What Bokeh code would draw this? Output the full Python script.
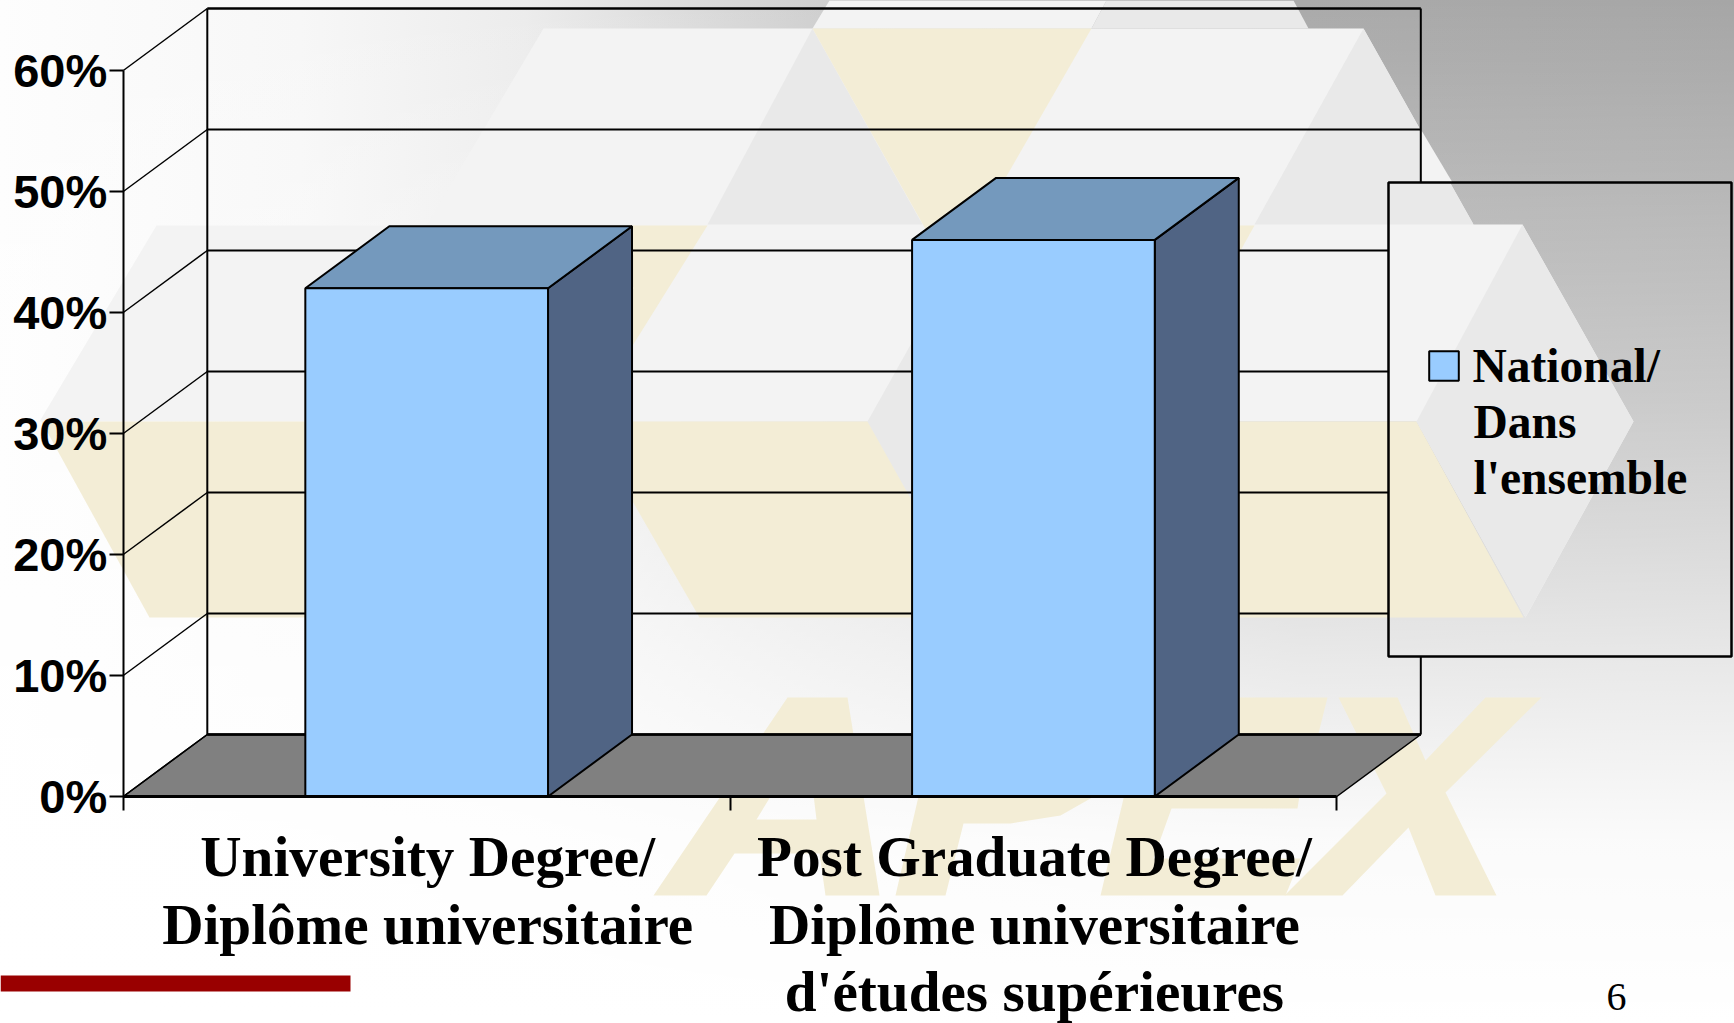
from bokeh.plotting import figure
from bokeh.embed import file_html
from bokeh.resources import INLINE
from bokeh.core.properties import value
from bokeh.models import (PolyAnnotation, Legend, LegendItem, FixedTicker,
                          LinearAxis, PrintfTickFormatter)

# ---- data ----
category_lines = [["University Degree/", "Diplôme universitaire"],
                  ["Post Graduate Degree/", "Diplôme universitaire", "d'études supérieures"]]
values = [42, 46]
y_ticks = [0, 10, 20, 30, 40, 50, 60]
legend_lines = ["National/", "Dans", "l'ensemble"]
page_number = "6"

# ---- layout (page pixels) ----
W, H = 1734, 1023
PX_CAT = 606.75            # px per category
PX_PCT = 12.1              # px per percentage point
LEFT, BASE = 122.8, 796    # front plane: left edge, 0 % line
DX, DY = 84 / PX_CAT, 62 / PX_PCT   # 3-D depth in data units
BAR_W = 0.4
BASELINE_K = 0.37          # the text glyph's alphabetic baseline sits this many em lower

XD = lambda x: (x - LEFT) / PX_CAT
YD = lambda y: (BASE - y) / PX_PCT
YT = lambda y, fs: YD(y - BASELINE_K * fs)

css = """
:host {
  background:
    linear-gradient(to bottom, rgba(255,255,255,0) 0%, rgba(255,255,255,.42) 40%, rgba(255,255,255,.75) 65%, rgba(255,255,255,.95) 82%, #fff 100%),
    linear-gradient(to right, rgb(253,253,253) 0px, rgb(251,251,251) 100px, rgb(247,247,247) 300px, rgb(236,236,236) 525px, rgb(207,207,207) 818px, rgb(170,170,170) 1300px, rgb(166,166,166) 1734px);
}
"""

p = figure(width=W, height=H, output_backend="svg", toolbar_location=None,
           x_range=(XD(0), XD(W)), y_range=(YD(H), YD(0)),
           x_axis_location=None, y_axis_location=None,
           min_border=0, border_fill_color=None, background_fill_color=None, outline_line_color=None)
p.stylesheets = [css]
p.grid.visible = False


def poly(pts, color, level="image"):
    p.add_layout(PolyAnnotation(xs=[a for a, b in pts], ys=[b for a, b in pts],
                                xs_units="canvas", ys_units="canvas", fill_color=color, fill_alpha=1,
                                line_alpha=0, level=level, editable=False))


L3, E9, CR = "#f3f3f3", "#e9e9e9", "#f3edd6"
# watermark background shapes
poly([(543, 28), (1363, 28), (1473, 224), (1522, 224), (1633, 421), (1525, 617), (1416, 421),
      (39, 421), (156, 225), (426, 225)], L3)
poly([(829, 0), (1106, 0), (1091, 28), (812, 28)], L3)
poly([(1106, 0), (1293, 0), (1308, 28), (1091, 28)], E9)
poly([(812, 28), (707, 224), (922, 224)], E9)
poly([(1363, 28), (1254, 224), (1473, 224)], E9)
poly([(1421, 130), (1421, 182), (1452, 182)], L3)
poly([(812, 28), (1091, 28), (950, 273)], CR)
poly([(395, 225), (707, 225), (523, 520)], CR)
poly([(940, 225), (1254, 225), (1090, 520)], CR)
poly([(41, 421), (500, 421), (500, 617), (149, 617)], CR)
poly([(586, 421), (1416, 421), (1523, 617), (699, 617)], CR)
poly([(867, 421), (977, 225), (1090, 421), (977, 617)], E9)
poly([(1416, 421), (1522, 224), (1633, 421), (1525, 617)], E9)
# watermark letters
poly([(787, 697), (847, 697), (879, 895), (825, 895), (819, 853), (816, 819), (806, 737), (756, 819),
      (816, 819), (819, 853), (734, 853), (706, 895), (653, 895)], CR)
poly([(895, 895), (941, 697), (1060, 697), (1130, 730), (1110, 780), (1090, 798), (1060, 815),
      (1010, 823), (963, 823), (945, 895)], CR)
poly([(1147, 697), (1327, 697), (1318, 733), (1190, 733), (1181, 770), (1303, 770), (1297, 808),
      (1171, 808), (1153, 858), (1300, 858), (1285, 895), (1100, 895)], CR)
poly([(1338, 697), (1397, 697), (1425, 760), (1485, 697), (1541, 697), (1445, 792), (1496, 895),
      (1435, 895), (1408, 827), (1342, 895), (1284, 895), (1386, 793)], CR)
# red rule
poly([(0, 975), (350, 975), (350, 991), (0, 991)], "#990000")

# legend box edges
LEG_L, LEG_R, LEG_T, LEG_B = 1388, 1731, 182, 656
leg_x, leg_top, leg_bot = XD(LEG_L), YD(LEG_T), YD(LEG_B)

n_cat = len(category_lines)

# floor
p.patch([0, DX, n_cat + DX, n_cat], [0, DY, DY, 0], fill_color="#808080", line_color="black", line_width=1.5)
p.line([DX, n_cat + DX], [DY, DY], line_color="black", line_width=2.5)

# side wall slants and back-wall grid lines
for t in y_ticks:
    p.line([0, DX], [t, t + DY], line_color="black", line_width=1.5)
    yb = t + DY
    xe = leg_x if leg_bot < yb < leg_top else n_cat + DX
    p.line([DX, xe], [yb, yb], line_color="black", line_width=2.5 if t == max(y_ticks) else 2)

# back wall verticals
top = max(y_ticks) + DY
p.line([DX, DX], [DY, top], line_color="black", line_width=2)
p.line([n_cat + DX, n_cat + DX], [top, leg_top], line_color="black", line_width=2)
p.line([n_cat + DX, n_cat + DX], [leg_bot, DY], line_color="black", line_width=2)

# bars
xc = [i + 0.5 for i in range(n_cat)]
for xm, v in zip(xc, values):
    x0, x1 = xm - BAR_W / 2, xm + BAR_W / 2
    p.patch([x1, x1 + DX, x1 + DX, x1], [0, DY, v + DY, v], fill_color="#506484", line_color="black", line_width=2)
    p.patch([x0, x1, x1 + DX, x0 + DX], [v, v, v + DY, v + DY], fill_color="#7499bd", line_color="black", line_width=2)
front = p.vbar(x=xc, top=values, bottom=0, width=BAR_W, fill_color="#99ccff", line_color="black", line_width=2)

# y axis
ya = LinearAxis(ticker=FixedTicker(ticks=y_ticks), bounds=(0, max(y_ticks)), fixed_location=0,
                formatter=PrintfTickFormatter(format="%d%%"))
ya.axis_line_color = "black"; ya.axis_line_width = 2
ya.major_tick_out = 14; ya.major_tick_in = 0; ya.major_tick_line_width = 2; ya.major_tick_line_color = "black"
ya.minor_tick_line_color = None
ya.major_label_standoff = 2
ya.major_label_text_font = "Liberation Sans"; ya.major_label_text_font_style = "bold"
ya.major_label_text_font_size = "47px"; ya.major_label_text_color = "black"
p.add_layout(ya, "left")

# x axis
xa = LinearAxis(ticker=FixedTicker(ticks=list(range(n_cat + 1))), bounds=(0, n_cat), fixed_location=0,
                major_label_text_font_size="0px", major_label_text_color=None)
xa.axis_line_color = "black"; xa.axis_line_width = 3
xa.major_tick_out = 14; xa.major_tick_in = 0; xa.major_tick_line_width = 2; xa.major_tick_line_color = "black"
xa.minor_tick_line_color = None
p.add_layout(xa, "below")

# category labels
SERIF = value("Liberation Serif")
for xm, lines in zip(xc, category_lines):
    p.text(x=[xm + 1 / PX_CAT] * len(lines), y=[YT(877.5 + 67.2 * i, 57.2) for i in range(len(lines))], text=lines,
           text_font=SERIF, text_font_style="bold", text_font_size="57.2px", text_color="black",
           text_align="center", text_baseline="alphabetic")

# legend box and legend
p.add_layout(PolyAnnotation(xs=[LEG_L, LEG_R, LEG_R, LEG_L], ys=[LEG_T, LEG_T, LEG_B, LEG_B],
                            xs_units="canvas", ys_units="canvas", fill_alpha=0, line_color="black",
                            line_alpha=1, line_width=2.5, level="overlay", editable=False))
legend = Legend(items=[LegendItem(label=legend_lines[0], renderers=[front])],
                location=(1424.5, H - 392.5), orientation="vertical",
                margin=0, padding=0, border_line_color=None, background_fill_alpha=0,
                glyph_width=37, glyph_height=37, label_standoff=11,
                label_text_font="Liberation Serif", label_text_font_style="bold",
                label_text_font_size="47.5px", label_text_color="black")
p.add_layout(legend, "center")
p.text(x=[XD(1473)] * 2, y=[YT(438.7, 47.5), YT(494.7, 47.5)], text=legend_lines[1:],
       text_font=SERIF, text_font_style="bold", text_font_size="47.5px", text_color="black",
       text_align="left", text_baseline="alphabetic")

p.text(x=[XD(1616)], y=[YT(1011, 40)], text=[page_number], text_font=SERIF, text_font_size="40px",
       text_color="black", text_align="center", text_baseline="alphabetic")

open("out.html", "w").write(file_html(p, INLINE))
